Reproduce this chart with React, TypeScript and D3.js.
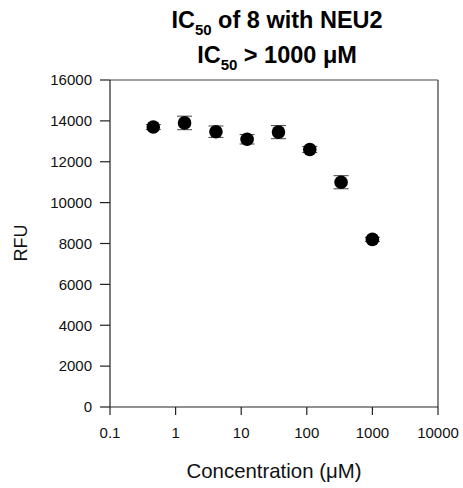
import React from "react";
import * as d3 from "d3";

const concentrations = [0.457, 1.37, 4.12, 12.3, 37.0, 111, 333, 1000];
const rfuMeans = [13700, 13900, 13470, 13100, 13450, 12600, 11000, 8200];
const rfuErrors = [120, 330, 280, 230, 320, 150, 320, 100];
const xTicks = [0.1, 1, 10, 100, 1000, 10000];
const yTicks = [0, 2000, 4000, 6000, 8000, 10000, 12000, 14000, 16000];

const W = 463;
const H = 488;
const left = 110;
const right = 438;
const top = 80;
const bottom = 407;

export default function App() {
  const x = d3.scaleLog().domain([0.1, 10000]).range([left, right]);
  const y = d3.scaleLinear().domain([0, 16000]).range([bottom, top]);
  const font = "'Liberation Sans', Arial, sans-serif";
  const axisColor = "#222";

  return (
    <svg
      width={W}
      height={H}
      style={{ position: "absolute", left: 0, top: 0, background: "#fff" }}
      fontFamily={font}
    >
      {/* frame top and right */}
      <line x1={left} x2={right} y1={top} y2={top} stroke="#444" strokeWidth={1.2} />
      <line x1={right} x2={right} y1={top} y2={bottom} stroke="#555" strokeWidth={1.4} />
      {/* axes */}
      <line x1={left} x2={left} y1={top} y2={bottom} stroke={axisColor} strokeWidth={1.2} />
      <line x1={left} x2={right} y1={bottom} y2={bottom} stroke={axisColor} strokeWidth={1.2} />
      {yTicks.map((t) => (
        <g key={"y" + t}>
          <line x1={left - 10} x2={left} y1={y(t)} y2={y(t)} stroke={axisColor} strokeWidth={1.2} />
          <text x={left - 18} y={y(t)} dy="0.35em" textAnchor="end" fontSize={15} fill="#111">
            {t}
          </text>
        </g>
      ))}
      {xTicks.map((t) => (
        <g key={"x" + t}>
          <line x1={x(t)} x2={x(t)} y1={bottom} y2={bottom + 8} stroke={axisColor} strokeWidth={1.2} />
          <text x={x(t)} y={438} textAnchor="middle" fontSize={15} fill="#111">
            {String(t)}
          </text>
        </g>
      ))}
      {/* error bars */}
      {concentrations.map((c, i) => {
        const cx = x(c);
        const y1 = y(rfuMeans[i] + rfuErrors[i]);
        const y2 = y(rfuMeans[i] - rfuErrors[i]);
        return (
          <g key={"e" + i} stroke="#555" strokeWidth={1.1}>
            <line x1={cx} x2={cx} y1={y1} y2={y2} />
            <line x1={cx - 7.5} x2={cx + 7.5} y1={y1} y2={y1} />
            <line x1={cx - 7.5} x2={cx + 7.5} y1={y2} y2={y2} />
          </g>
        );
      })}
      {concentrations.map((c, i) => (
        <circle key={"p" + i} cx={x(c)} cy={y(rfuMeans[i])} r={6.8} fill="#000" />
      ))}
      {/* titles */}
      <text x={277} y={28} textAnchor="middle" fontSize={23.5} fontWeight="bold" fill="#000">
        <tspan>IC</tspan>
        <tspan fontSize={15} dy={7}>50</tspan>
        <tspan dy={-7}> of 8 with NEU2</tspan>
      </text>
      <text x={277} y={63} textAnchor="middle" fontSize={23.5} fontWeight="bold" fill="#000">
        <tspan>IC</tspan>
        <tspan fontSize={15} dy={7}>50</tspan>
        <tspan dy={-7}> &gt; 1000 μM</tspan>
      </text>
      <text
        transform={`translate(27,243) rotate(-90)`}
        textAnchor="middle"
        fontSize={18}
        fill="#111"
      >
        RFU
      </text>
      <text x={274} y={478} textAnchor="middle" fontSize={20.4} fill="#111">
        Concentration (μM)
      </text>
    </svg>
  );
}
